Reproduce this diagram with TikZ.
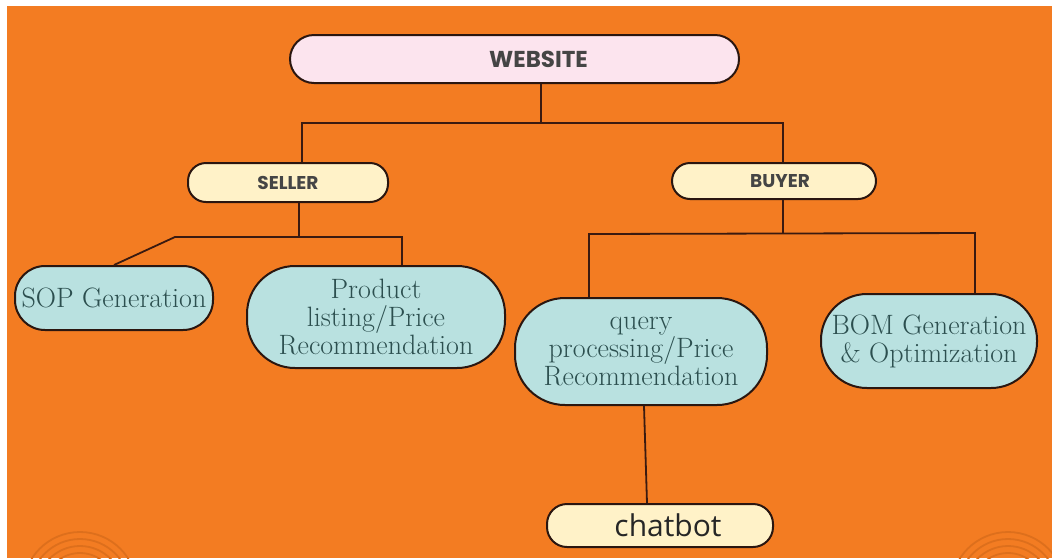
\documentclass[tikz,border=0pt]{standalone}
\usepackage{fontspec}
\newfontfamily\popfont{Poppins}
\newfontfamily\opfont{Open Sans}
\definecolor{bgorange}{HTML}{F37C22}
\definecolor{arcorange}{HTML}{DD6F1C}
\definecolor{pinkfill}{HTML}{FCE4EE}
\definecolor{creamfill}{HTML}{FFF2C8}
\definecolor{bluefill}{HTML}{B9E1E0}
\definecolor{outline}{HTML}{2A1610}
\definecolor{connc}{HTML}{3A1A10}
\definecolor{serifcol}{HTML}{2C4F4F}
\definecolor{headcol}{HTML}{454545}
\tikzset{
  boxbase/.style={draw=outline, line width=2pt, align=center, inner sep=0pt},
  webbox/.style={boxbase, fill=pinkfill, minimum width=449pt, minimum height=48pt, rounded corners=24pt,
     font=\popfont\bfseries\fontsize{23}{26}\selectfont, text=headcol},
  rolebox/.style={boxbase, fill=creamfill, rounded corners=18pt,
     font=\popfont\bfseries\fontsize{18.5}{21}\selectfont, text=headcol},
  taskbox/.style={boxbase, fill=bluefill, font=\fontsize{28}{28}\selectfont, text=serifcol},
  chatbox/.style={boxbase, fill=creamfill, minimum width=226pt, minimum height=43pt, rounded corners=20pt,
     font=\opfont\fontsize{30}{32}\selectfont, text=black!85},
  conn/.style={draw=connc, line width=1.8pt},
  deco/.style={draw=arcorange, line width=1.8pt}
}
\begin{document}
\begin{tikzpicture}[x=1pt,y=-1pt]
\useasboundingbox (0,0) rectangle (1052,558);
\fill[white] (0,0) rectangle (1052,558);
\fill[bgorange] (7,6) rectangle (1052,558);
\begin{scope}
\clip (7,6) rectangle (1052,558);
\foreach \r in {57,50,43,36} {
  \draw[deco] (80,589) circle (\r);
  \draw[deco] (1008,589) circle (\r);
}
\end{scope}

% nodes
\node[webbox] (web) at (514.5,59) {\hspace*{48pt}WEBSITE};
\node[rolebox, minimum width=200pt, minimum height=39pt] (seller) at (288,182.5) {SELLER};
\node[rolebox, minimum width=204pt, minimum height=36pt] (buyer) at (774,181) {\hspace*{12pt}BUYER};
\node[taskbox, minimum width=198pt, minimum height=64pt, rounded corners=30pt] (sop) at (114,298) {SOP Generation};
\node[taskbox, minimum width=258pt, minimum height=102pt, rounded corners=48pt] (prod) at (376,317) {Product\\listing/Price\\Recommendation};
\node[taskbox, minimum width=252pt, minimum height=107pt, rounded corners=50pt] (query) at (641,351.5) {query\\processing/Price\\Recommendation};
\node[taskbox, minimum width=216pt, minimum height=94pt, rounded corners=46pt] (bom) at (929,341) {BOM Generation\\\& Optimization};
\node[chatbox] (chat) at (660,525.5) {\hspace*{16pt}chatbot};

% junction coordinates
\coordinate (wj) at (541,123);
\coordinate (sx) at (302,123);
\coordinate (bx) at (783,123);
\coordinate (sj) at (299,237);
\coordinate (sl) at (175,237);
\coordinate (sr) at (402,237);
\coordinate (bj) at (783,234);
\coordinate (bl) at (589,234);
\coordinate (br) at (975,233);
\coordinate (qx) at (644,0);
\coordinate (cx) at (647,0);

% connectors
\draw[conn] (web.south -| wj) -- (wj);
\draw[conn] (seller.north -| sx) -- (sx) -- (bx) -- (buyer.north -| bx);
\draw[conn] (seller.south -| sj) -- (sj);
\draw[conn] (sop.north) -- (sl) -- (sr) -- (prod.north -| sr);
\draw[conn] (buyer.south -| bj) -- (bj);
\draw[conn] (query.north -| bl) -- (bl) -- (br) -- (bom.north -| br);
\draw[conn] (query.south -| qx) -- (chat.north -| cx);
\end{tikzpicture}
\end{document}
